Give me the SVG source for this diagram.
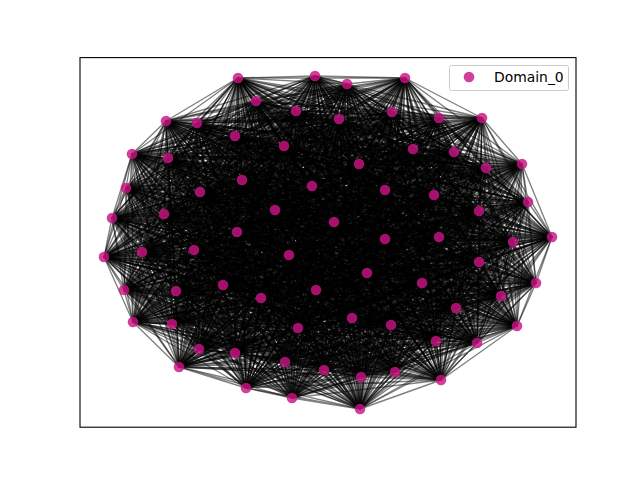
<svg xmlns="http://www.w3.org/2000/svg" width="640" height="480" viewBox="0 0 640 480">
<style>
.e{fill:none;stroke:#000;stroke-opacity:0.5;stroke-width:1.35;stroke-linejoin:round}
.n circle{fill:#c71585;fill-opacity:0.82}
.lg{font-family:"DejaVu Sans","Liberation Sans",sans-serif;font-size:13.9px;fill:#000}
</style>
<rect width="640" height="480" fill="#fff"/>
<g id="edges">
<path class="e" d="M238 78 315 76 360 409 347 84 292 398 405 78 246 388 256 101 441 380 296 111 179 367 392 112 361 377 339 119 395 372 166 121 324 370 197 123 285 362 439 118 235 353 482 118 199 349 235 136 477 343 284 146 436 341 413 149 517 326 132 154 391 325 168 158 298 328 454 152 352 318 359 164 456 308 486 168 172 324 522 164 133 322 242 180 501 296 312 186 261 298 385 190 422 283 126 188 316 290 200 192 176 291 434 195 124 290 528 202 223 285 112 218 536 283 164 214 367 273 275 210 479 262 479 211 289 255 334 222 194 250 237 232 142 252 385 239 104 257 439 237 513 242 552 237"/>
<path class="e" d="M315 76 347 84 238 78 405 78 360 409 256 101 292 398 296 111 246 388 392 112 441 380 339 119 179 367 166 121 361 377 197 123 395 372 439 118 324 370 482 118 285 362 235 136 235 353 284 146 199 349 413 149 477 343 132 154 436 341 168 158 517 326 454 152 391 325 359 164 298 328 486 168 352 318 522 164 456 308 242 180 172 324 312 186 133 322 385 190 501 296 126 188 261 298 200 192 422 283 434 195 316 290 528 202 176 291 112 218 124 290 164 214 223 285 275 210 536 283 479 211 367 273 334 222 479 262 237 232 289 255 385 239 194 250 439 237 142 252 552 237 104 257 513 242"/>
<path class="e" d="M347 84 405 78 315 76 256 101 238 78 296 111 360 409 392 112 292 398 339 119 246 388 166 121 441 380 197 123 179 367 439 118 361 377 482 118 395 372 235 136 324 370 284 146 285 362 413 149 235 353 132 154 199 349 168 158 477 343 454 152 436 341 359 164 517 326 486 168 391 325 522 164 298 328 242 180 352 318 312 186 456 308 385 190 172 324 126 188 133 322 200 192 501 296 434 195 261 298 528 202 422 283 112 218 316 290 164 214 176 291 275 210 124 290 479 211 223 285 334 222 536 283 237 232 367 273 385 239 479 262 439 237 289 255 552 237 194 250 513 242 142 252 104 257"/>
<path class="e" d="M405 78 256 101 347 84 296 111 315 76 392 112 238 78 339 119 360 409 166 121 292 398 197 123 246 388 439 118 441 380 482 118 179 367 235 136 361 377 284 146 395 372 413 149 324 370 132 154 285 362 168 158 235 353 454 152 199 349 359 164 477 343 486 168 436 341 522 164 517 326 242 180 391 325 312 186 298 328 385 190 352 318 126 188 456 308 200 192 172 324 434 195 133 322 528 202 501 296 112 218 261 298 164 214 422 283 275 210 316 290 479 211 176 291 334 222 124 290 237 232 223 285 385 239 536 283 439 237 367 273 552 237 479 262 513 242 289 255 104 257 194 250 142 252"/>
<path class="e" d="M256 101 296 111 405 78 392 112 347 84 339 119 315 76 166 121 238 78 197 123 360 409 439 118 292 398 482 118 246 388 235 136 441 380 284 146 179 367 413 149 361 377 132 154 395 372 168 158 324 370 454 152 285 362 359 164 235 353 486 168 199 349 522 164 477 343 242 180 436 341 312 186 517 326 385 190 391 325 126 188 298 328 200 192 352 318 434 195 456 308 528 202 172 324 112 218 133 322 164 214 501 296 275 210 261 298 479 211 422 283 334 222 316 290 237 232 176 291 385 239 124 290 439 237 223 285 552 237 536 283 513 242 367 273 104 257 479 262 142 252 289 255 194 250"/>
<path class="e" d="M296 111 392 112 256 101 339 119 405 78 166 121 347 84 197 123 315 76 439 118 238 78 482 118 360 409 235 136 292 398 284 146 246 388 413 149 441 380 132 154 179 367 168 158 361 377 454 152 395 372 359 164 324 370 486 168 285 362 522 164 235 353 242 180 199 349 312 186 477 343 385 190 436 341 126 188 517 326 200 192 391 325 434 195 298 328 528 202 352 318 112 218 456 308 164 214 172 324 275 210 133 322 479 211 501 296 334 222 261 298 237 232 422 283 385 239 316 290 439 237 176 291 552 237 124 290 513 242 223 285 104 257 536 283 142 252 367 273 194 250 479 262 289 255"/>
<path class="e" d="M392 112 339 119 296 111 166 121 256 101 197 123 405 78 439 118 347 84 482 118 315 76 235 136 238 78 284 146 360 409 413 149 292 398 132 154 246 388 168 158 441 380 454 152 179 367 359 164 361 377 486 168 395 372 522 164 324 370 242 180 285 362 312 186 235 353 385 190 199 349 126 188 477 343 200 192 436 341 434 195 517 326 528 202 391 325 112 218 298 328 164 214 352 318 275 210 456 308 479 211 172 324 334 222 133 322 237 232 501 296 385 239 261 298 439 237 422 283 552 237 316 290 513 242 176 291 104 257 124 290 142 252 223 285 194 250 536 283 289 255 367 273 479 262"/>
<path class="e" d="M339 119 166 121 392 112 197 123 296 111 439 118 256 101 482 118 405 78 235 136 347 84 284 146 315 76 413 149 238 78 132 154 360 409 168 158 292 398 454 152 246 388 359 164 441 380 486 168 179 367 522 164 361 377 242 180 395 372 312 186 324 370 385 190 285 362 126 188 235 353 200 192 199 349 434 195 477 343 528 202 436 341 112 218 517 326 164 214 391 325 275 210 298 328 479 211 352 318 334 222 456 308 237 232 172 324 385 239 133 322 439 237 501 296 552 237 261 298 513 242 422 283 104 257 316 290 142 252 176 291 194 250 124 290 289 255 223 285 479 262 536 283 367 273"/>
<path class="e" d="M166 121 197 123 339 119 439 118 392 112 482 118 296 111 235 136 256 101 284 146 405 78 413 149 347 84 132 154 315 76 168 158 238 78 454 152 360 409 359 164 292 398 486 168 246 388 522 164 441 380 242 180 179 367 312 186 361 377 385 190 395 372 126 188 324 370 200 192 285 362 434 195 235 353 528 202 199 349 112 218 477 343 164 214 436 341 275 210 517 326 479 211 391 325 334 222 298 328 237 232 352 318 385 239 456 308 439 237 172 324 552 237 133 322 513 242 501 296 104 257 261 298 142 252 422 283 194 250 316 290 289 255 176 291 479 262 124 290 367 273 223 285 536 283"/>
<path class="e" d="M197 123 439 118 166 121 482 118 339 119 235 136 392 112 284 146 296 111 413 149 256 101 132 154 405 78 168 158 347 84 454 152 315 76 359 164 238 78 486 168 360 409 522 164 292 398 242 180 246 388 312 186 441 380 385 190 179 367 126 188 361 377 200 192 395 372 434 195 324 370 528 202 285 362 112 218 235 353 164 214 199 349 275 210 477 343 479 211 436 341 334 222 517 326 237 232 391 325 385 239 298 328 439 237 352 318 552 237 456 308 513 242 172 324 104 257 133 322 142 252 501 296 194 250 261 298 289 255 422 283 479 262 316 290 367 273 176 291 536 283 124 290 223 285"/>
<path class="e" d="M439 118 482 118 197 123 235 136 166 121 284 146 339 119 413 149 392 112 132 154 296 111 168 158 256 101 454 152 405 78 359 164 347 84 486 168 315 76 522 164 238 78 242 180 360 409 312 186 292 398 385 190 246 388 126 188 441 380 200 192 179 367 434 195 361 377 528 202 395 372 112 218 324 370 164 214 285 362 275 210 235 353 479 211 199 349 334 222 477 343 237 232 436 341 385 239 517 326 439 237 391 325 552 237 298 328 513 242 352 318 104 257 456 308 142 252 172 324 194 250 133 322 289 255 501 296 479 262 261 298 367 273 422 283 536 283 316 290 223 285 176 291 124 290"/>
<path class="e" d="M482 118 235 136 439 118 284 146 197 123 413 149 166 121 132 154 339 119 168 158 392 112 454 152 296 111 359 164 256 101 486 168 405 78 522 164 347 84 242 180 315 76 312 186 238 78 385 190 360 409 126 188 292 398 200 192 246 388 434 195 441 380 528 202 179 367 112 218 361 377 164 214 395 372 275 210 324 370 479 211 285 362 334 222 235 353 237 232 199 349 385 239 477 343 439 237 436 341 552 237 517 326 513 242 391 325 104 257 298 328 142 252 352 318 194 250 456 308 289 255 172 324 479 262 133 322 367 273 501 296 536 283 261 298 223 285 422 283 124 290 316 290 176 291"/>
<path class="e" d="M235 136 284 146 482 118 413 149 439 118 132 154 197 123 168 158 166 121 454 152 339 119 359 164 392 112 486 168 296 111 522 164 256 101 242 180 405 78 312 186 347 84 385 190 315 76 126 188 238 78 200 192 360 409 434 195 292 398 528 202 246 388 112 218 441 380 164 214 179 367 275 210 361 377 479 211 395 372 334 222 324 370 237 232 285 362 385 239 235 353 439 237 199 349 552 237 477 343 513 242 436 341 104 257 517 326 142 252 391 325 194 250 298 328 289 255 352 318 479 262 456 308 367 273 172 324 536 283 133 322 223 285 501 296 124 290 261 298 176 291 422 283 316 290"/>
<path class="e" d="M284 146 413 149 235 136 132 154 482 118 168 158 439 118 454 152 197 123 359 164 166 121 486 168 339 119 522 164 392 112 242 180 296 111 312 186 256 101 385 190 405 78 126 188 347 84 200 192 315 76 434 195 238 78 528 202 360 409 112 218 292 398 164 214 246 388 275 210 441 380 479 211 179 367 334 222 361 377 237 232 395 372 385 239 324 370 439 237 285 362 552 237 235 353 513 242 199 349 104 257 477 343 142 252 436 341 194 250 517 326 289 255 391 325 479 262 298 328 367 273 352 318 536 283 456 308 223 285 172 324 124 290 133 322 176 291 501 296 316 290 261 298 422 283"/>
<path class="e" d="M413 149 132 154 284 146 168 158 235 136 454 152 482 118 359 164 439 118 486 168 197 123 522 164 166 121 242 180 339 119 312 186 392 112 385 190 296 111 126 188 256 101 200 192 405 78 434 195 347 84 528 202 315 76 112 218 238 78 164 214 360 409 275 210 292 398 479 211 246 388 334 222 441 380 237 232 179 367 385 239 361 377 439 237 395 372 552 237 324 370 513 242 285 362 104 257 235 353 142 252 199 349 194 250 477 343 289 255 436 341 479 262 517 326 367 273 391 325 536 283 298 328 223 285 352 318 124 290 456 308 176 291 172 324 316 290 133 322 422 283 501 296 261 298"/>
<path class="e" d="M132 154 168 158 413 149 454 152 284 146 359 164 235 136 486 168 482 118 522 164 439 118 242 180 197 123 312 186 166 121 385 190 339 119 126 188 392 112 200 192 296 111 434 195 256 101 528 202 405 78 112 218 347 84 164 214 315 76 275 210 238 78 479 211 360 409 334 222 292 398 237 232 246 388 385 239 441 380 439 237 179 367 552 237 361 377 513 242 395 372 104 257 324 370 142 252 285 362 194 250 235 353 289 255 199 349 479 262 477 343 367 273 436 341 536 283 517 326 223 285 391 325 124 290 298 328 176 291 352 318 316 290 456 308 422 283 172 324 261 298 133 322 501 296"/>
<path class="e" d="M168 158 454 152 132 154 359 164 413 149 486 168 284 146 522 164 235 136 242 180 482 118 312 186 439 118 385 190 197 123 126 188 166 121 200 192 339 119 434 195 392 112 528 202 296 111 112 218 256 101 164 214 405 78 275 210 347 84 479 211 315 76 334 222 238 78 237 232 360 409 385 239 292 398 439 237 246 388 552 237 441 380 513 242 179 367 104 257 361 377 142 252 395 372 194 250 324 370 289 255 285 362 479 262 235 353 367 273 199 349 536 283 477 343 223 285 436 341 124 290 517 326 176 291 391 325 316 290 298 328 422 283 352 318 261 298 456 308 501 296 172 324 133 322"/>
<path class="e" d="M454 152 359 164 168 158 486 168 132 154 522 164 413 149 242 180 284 146 312 186 235 136 385 190 482 118 126 188 439 118 200 192 197 123 434 195 166 121 528 202 339 119 112 218 392 112 164 214 296 111 275 210 256 101 479 211 405 78 334 222 347 84 237 232 315 76 385 239 238 78 439 237 360 409 552 237 292 398 513 242 246 388 104 257 441 380 142 252 179 367 194 250 361 377 289 255 395 372 479 262 324 370 367 273 285 362 536 283 235 353 223 285 199 349 124 290 477 343 176 291 436 341 316 290 517 326 422 283 391 325 261 298 298 328 501 296 352 318 133 322 456 308 172 324"/>
<path class="e" d="M359 164 486 168 454 152 522 164 168 158 242 180 132 154 312 186 413 149 385 190 284 146 126 188 235 136 200 192 482 118 434 195 439 118 528 202 197 123 112 218 166 121 164 214 339 119 275 210 392 112 479 211 296 111 334 222 256 101 237 232 405 78 385 239 347 84 439 237 315 76 552 237 238 78 513 242 360 409 104 257 292 398 142 252 246 388 194 250 441 380 289 255 179 367 479 262 361 377 367 273 395 372 536 283 324 370 223 285 285 362 124 290 235 353 176 291 199 349 316 290 477 343 422 283 436 341 261 298 517 326 501 296 391 325 133 322 298 328 172 324 352 318 456 308"/>
<path class="e" d="M486 168 522 164 359 164 242 180 454 152 312 186 168 158 385 190 132 154 126 188 413 149 200 192 284 146 434 195 235 136 528 202 482 118 112 218 439 118 164 214 197 123 275 210 166 121 479 211 339 119 334 222 392 112 237 232 296 111 385 239 256 101 439 237 405 78 552 237 347 84 513 242 315 76 104 257 238 78 142 252 360 409 194 250 292 398 289 255 246 388 479 262 441 380 367 273 179 367 536 283 361 377 223 285 395 372 124 290 324 370 176 291 285 362 316 290 235 353 422 283 199 349 261 298 477 343 501 296 436 341 133 322 517 326 172 324 391 325 456 308 298 328 352 318"/>
<path class="e" d="M522 164 242 180 486 168 312 186 359 164 385 190 454 152 126 188 168 158 200 192 132 154 434 195 413 149 528 202 284 146 112 218 235 136 164 214 482 118 275 210 439 118 479 211 197 123 334 222 166 121 237 232 339 119 385 239 392 112 439 237 296 111 552 237 256 101 513 242 405 78 104 257 347 84 142 252 315 76 194 250 238 78 289 255 360 409 479 262 292 398 367 273 246 388 536 283 441 380 223 285 179 367 124 290 361 377 176 291 395 372 316 290 324 370 422 283 285 362 261 298 235 353 501 296 199 349 133 322 477 343 172 324 436 341 456 308 517 326 352 318 391 325 298 328"/>
<path class="e" d="M242 180 312 186 522 164 385 190 486 168 126 188 359 164 200 192 454 152 434 195 168 158 528 202 132 154 112 218 413 149 164 214 284 146 275 210 235 136 479 211 482 118 334 222 439 118 237 232 197 123 385 239 166 121 439 237 339 119 552 237 392 112 513 242 296 111 104 257 256 101 142 252 405 78 194 250 347 84 289 255 315 76 479 262 238 78 367 273 360 409 536 283 292 398 223 285 246 388 124 290 441 380 176 291 179 367 316 290 361 377 422 283 395 372 261 298 324 370 501 296 285 362 133 322 235 353 172 324 199 349 456 308 477 343 352 318 436 341 298 328 517 326 391 325"/>
<path class="e" d="M312 186 385 190 242 180 126 188 522 164 200 192 486 168 434 195 359 164 528 202 454 152 112 218 168 158 164 214 132 154 275 210 413 149 479 211 284 146 334 222 235 136 237 232 482 118 385 239 439 118 439 237 197 123 552 237 166 121 513 242 339 119 104 257 392 112 142 252 296 111 194 250 256 101 289 255 405 78 479 262 347 84 367 273 315 76 536 283 238 78 223 285 360 409 124 290 292 398 176 291 246 388 316 290 441 380 422 283 179 367 261 298 361 377 501 296 395 372 133 322 324 370 172 324 285 362 456 308 235 353 352 318 199 349 298 328 477 343 391 325 436 341 517 326"/>
<path class="e" d="M385 190 126 188 312 186 200 192 242 180 434 195 522 164 528 202 486 168 112 218 359 164 164 214 454 152 275 210 168 158 479 211 132 154 334 222 413 149 237 232 284 146 385 239 235 136 439 237 482 118 552 237 439 118 513 242 197 123 104 257 166 121 142 252 339 119 194 250 392 112 289 255 296 111 479 262 256 101 367 273 405 78 536 283 347 84 223 285 315 76 124 290 238 78 176 291 360 409 316 290 292 398 422 283 246 388 261 298 441 380 501 296 179 367 133 322 361 377 172 324 395 372 456 308 324 370 352 318 285 362 298 328 235 353 391 325 199 349 517 326 477 343 436 341"/>
<path class="e" d="M126 188 200 192 385 190 434 195 312 186 528 202 242 180 112 218 522 164 164 214 486 168 275 210 359 164 479 211 454 152 334 222 168 158 237 232 132 154 385 239 413 149 439 237 284 146 552 237 235 136 513 242 482 118 104 257 439 118 142 252 197 123 194 250 166 121 289 255 339 119 479 262 392 112 367 273 296 111 536 283 256 101 223 285 405 78 124 290 347 84 176 291 315 76 316 290 238 78 422 283 360 409 261 298 292 398 501 296 246 388 133 322 441 380 172 324 179 367 456 308 361 377 352 318 395 372 298 328 324 370 391 325 285 362 517 326 235 353 436 341 199 349 477 343"/>
<path class="e" d="M200 192 434 195 126 188 528 202 385 190 112 218 312 186 164 214 242 180 275 210 522 164 479 211 486 168 334 222 359 164 237 232 454 152 385 239 168 158 439 237 132 154 552 237 413 149 513 242 284 146 104 257 235 136 142 252 482 118 194 250 439 118 289 255 197 123 479 262 166 121 367 273 339 119 536 283 392 112 223 285 296 111 124 290 256 101 176 291 405 78 316 290 347 84 422 283 315 76 261 298 238 78 501 296 360 409 133 322 292 398 172 324 246 388 456 308 441 380 352 318 179 367 298 328 361 377 391 325 395 372 517 326 324 370 436 341 285 362 477 343 235 353 199 349"/>
<path class="e" d="M434 195 528 202 200 192 112 218 126 188 164 214 385 190 275 210 312 186 479 211 242 180 334 222 522 164 237 232 486 168 385 239 359 164 439 237 454 152 552 237 168 158 513 242 132 154 104 257 413 149 142 252 284 146 194 250 235 136 289 255 482 118 479 262 439 118 367 273 197 123 536 283 166 121 223 285 339 119 124 290 392 112 176 291 296 111 316 290 256 101 422 283 405 78 261 298 347 84 501 296 315 76 133 322 238 78 172 324 360 409 456 308 292 398 352 318 246 388 298 328 441 380 391 325 179 367 517 326 361 377 436 341 395 372 477 343 324 370 199 349 285 362 235 353"/>
<path class="e" d="M528 202 112 218 434 195 164 214 200 192 275 210 126 188 479 211 385 190 334 222 312 186 237 232 242 180 385 239 522 164 439 237 486 168 552 237 359 164 513 242 454 152 104 257 168 158 142 252 132 154 194 250 413 149 289 255 284 146 479 262 235 136 367 273 482 118 536 283 439 118 223 285 197 123 124 290 166 121 176 291 339 119 316 290 392 112 422 283 296 111 261 298 256 101 501 296 405 78 133 322 347 84 172 324 315 76 456 308 238 78 352 318 360 409 298 328 292 398 391 325 246 388 517 326 441 380 436 341 179 367 477 343 361 377 199 349 395 372 235 353 324 370 285 362"/>
<path class="e" d="M112 218 164 214 528 202 275 210 434 195 479 211 200 192 334 222 126 188 237 232 385 190 385 239 312 186 439 237 242 180 552 237 522 164 513 242 486 168 104 257 359 164 142 252 454 152 194 250 168 158 289 255 132 154 479 262 413 149 367 273 284 146 536 283 235 136 223 285 482 118 124 290 439 118 176 291 197 123 316 290 166 121 422 283 339 119 261 298 392 112 501 296 296 111 133 322 256 101 172 324 405 78 456 308 347 84 352 318 315 76 298 328 238 78 391 325 360 409 517 326 292 398 436 341 246 388 477 343 441 380 199 349 179 367 235 353 361 377 285 362 395 372 324 370"/>
<path class="e" d="M164 214 275 210 112 218 479 211 528 202 334 222 434 195 237 232 200 192 385 239 126 188 439 237 385 190 552 237 312 186 513 242 242 180 104 257 522 164 142 252 486 168 194 250 359 164 289 255 454 152 479 262 168 158 367 273 132 154 536 283 413 149 223 285 284 146 124 290 235 136 176 291 482 118 316 290 439 118 422 283 197 123 261 298 166 121 501 296 339 119 133 322 392 112 172 324 296 111 456 308 256 101 352 318 405 78 298 328 347 84 391 325 315 76 517 326 238 78 436 341 360 409 477 343 292 398 199 349 246 388 235 353 441 380 285 362 179 367 324 370 361 377 395 372"/>
<path class="e" d="M275 210 479 211 164 214 334 222 112 218 237 232 528 202 385 239 434 195 439 237 200 192 552 237 126 188 513 242 385 190 104 257 312 186 142 252 242 180 194 250 522 164 289 255 486 168 479 262 359 164 367 273 454 152 536 283 168 158 223 285 132 154 124 290 413 149 176 291 284 146 316 290 235 136 422 283 482 118 261 298 439 118 501 296 197 123 133 322 166 121 172 324 339 119 456 308 392 112 352 318 296 111 298 328 256 101 391 325 405 78 517 326 347 84 436 341 315 76 477 343 238 78 199 349 360 409 235 353 292 398 285 362 246 388 324 370 441 380 395 372 179 367 361 377"/>
<path class="e" d="M479 211 334 222 275 210 237 232 164 214 385 239 112 218 439 237 528 202 552 237 434 195 513 242 200 192 104 257 126 188 142 252 385 190 194 250 312 186 289 255 242 180 479 262 522 164 367 273 486 168 536 283 359 164 223 285 454 152 124 290 168 158 176 291 132 154 316 290 413 149 422 283 284 146 261 298 235 136 501 296 482 118 133 322 439 118 172 324 197 123 456 308 166 121 352 318 339 119 298 328 392 112 391 325 296 111 517 326 256 101 436 341 405 78 477 343 347 84 199 349 315 76 235 353 238 78 285 362 360 409 324 370 292 398 395 372 246 388 361 377 441 380 179 367"/>
<path class="e" d="M334 222 237 232 479 211 385 239 275 210 439 237 164 214 552 237 112 218 513 242 528 202 104 257 434 195 142 252 200 192 194 250 126 188 289 255 385 190 479 262 312 186 367 273 242 180 536 283 522 164 223 285 486 168 124 290 359 164 176 291 454 152 316 290 168 158 422 283 132 154 261 298 413 149 501 296 284 146 133 322 235 136 172 324 482 118 456 308 439 118 352 318 197 123 298 328 166 121 391 325 339 119 517 326 392 112 436 341 296 111 477 343 256 101 199 349 405 78 235 353 347 84 285 362 315 76 324 370 238 78 395 372 360 409 361 377 292 398 179 367 246 388 441 380"/>
<path class="e" d="M237 232 385 239 334 222 439 237 479 211 552 237 275 210 513 242 164 214 104 257 112 218 142 252 528 202 194 250 434 195 289 255 200 192 479 262 126 188 367 273 385 190 536 283 312 186 223 285 242 180 124 290 522 164 176 291 486 168 316 290 359 164 422 283 454 152 261 298 168 158 501 296 132 154 133 322 413 149 172 324 284 146 456 308 235 136 352 318 482 118 298 328 439 118 391 325 197 123 517 326 166 121 436 341 339 119 477 343 392 112 199 349 296 111 235 353 256 101 285 362 405 78 324 370 347 84 395 372 315 76 361 377 238 78 179 367 360 409 441 380 292 398 246 388"/>
<path class="e" d="M385 239 439 237 237 232 552 237 334 222 513 242 479 211 104 257 275 210 142 252 164 214 194 250 112 218 289 255 528 202 479 262 434 195 367 273 200 192 536 283 126 188 223 285 385 190 124 290 312 186 176 291 242 180 316 290 522 164 422 283 486 168 261 298 359 164 501 296 454 152 133 322 168 158 172 324 132 154 456 308 413 149 352 318 284 146 298 328 235 136 391 325 482 118 517 326 439 118 436 341 197 123 477 343 166 121 199 349 339 119 235 353 392 112 285 362 296 111 324 370 256 101 395 372 405 78 361 377 347 84 179 367 315 76 441 380 238 78 246 388 360 409 292 398"/>
<path class="e" d="M439 237 552 237 385 239 513 242 237 232 104 257 334 222 142 252 479 211 194 250 275 210 289 255 164 214 479 262 112 218 367 273 528 202 536 283 434 195 223 285 200 192 124 290 126 188 176 291 385 190 316 290 312 186 422 283 242 180 261 298 522 164 501 296 486 168 133 322 359 164 172 324 454 152 456 308 168 158 352 318 132 154 298 328 413 149 391 325 284 146 517 326 235 136 436 341 482 118 477 343 439 118 199 349 197 123 235 353 166 121 285 362 339 119 324 370 392 112 395 372 296 111 361 377 256 101 179 367 405 78 441 380 347 84 246 388 315 76 292 398 238 78 360 409"/>
</g>
<g id="nodes" class="n">
<g id="n0"><circle cx="238" cy="78" r="5.3"/></g>
<g id="n1"><circle cx="315" cy="76" r="5.3"/></g>
<g id="n2"><circle cx="347" cy="84" r="5.3"/></g>
<g id="n3"><circle cx="405" cy="78" r="5.3"/></g>
<g id="n4"><circle cx="256" cy="101" r="5.3"/></g>
<g id="n5"><circle cx="296" cy="111" r="5.3"/></g>
<g id="n6"><circle cx="392" cy="112" r="5.3"/></g>
<g id="n7"><circle cx="339" cy="119" r="5.3"/></g>
<g id="n8"><circle cx="166" cy="121" r="5.3"/></g>
<g id="n9"><circle cx="197" cy="123" r="5.3"/></g>
<g id="n10"><circle cx="439" cy="118" r="5.3"/></g>
<g id="n11"><circle cx="482" cy="118" r="5.3"/></g>
<g id="n12"><circle cx="235" cy="136" r="5.3"/></g>
<g id="n13"><circle cx="284" cy="146" r="5.3"/></g>
<g id="n14"><circle cx="413" cy="149" r="5.3"/></g>
<g id="n15"><circle cx="132" cy="154" r="5.3"/></g>
<g id="n16"><circle cx="168" cy="158" r="5.3"/></g>
<g id="n17"><circle cx="454" cy="152" r="5.3"/></g>
<g id="n18"><circle cx="359" cy="164" r="5.3"/></g>
<g id="n19"><circle cx="486" cy="168" r="5.3"/></g>
<g id="n20"><circle cx="522" cy="164" r="5.3"/></g>
<g id="n21"><circle cx="242" cy="180" r="5.3"/></g>
<g id="n22"><circle cx="312" cy="186" r="5.3"/></g>
<g id="n23"><circle cx="385" cy="190" r="5.3"/></g>
<g id="n24"><circle cx="126" cy="188" r="5.3"/></g>
<g id="n25"><circle cx="200" cy="192" r="5.3"/></g>
<g id="n26"><circle cx="434" cy="195" r="5.3"/></g>
<g id="n27"><circle cx="528" cy="202" r="5.3"/></g>
<g id="n28"><circle cx="112" cy="218" r="5.3"/></g>
<g id="n29"><circle cx="164" cy="214" r="5.3"/></g>
<g id="n30"><circle cx="275" cy="210" r="5.3"/></g>
<g id="n31"><circle cx="479" cy="211" r="5.3"/></g>
<g id="n32"><circle cx="334" cy="222" r="5.3"/></g>
<g id="n33"><circle cx="237" cy="232" r="5.3"/></g>
<g id="n34"><circle cx="385" cy="239" r="5.3"/></g>
<g id="n35"><circle cx="439" cy="237" r="5.3"/></g>
<g id="n36"><circle cx="552" cy="237" r="5.3"/></g>
<g id="n37"><circle cx="513" cy="242" r="5.3"/></g>
<g id="n38"><circle cx="104" cy="257" r="5.3"/></g>
<g id="n39"><circle cx="142" cy="252" r="5.3"/></g>
<g id="n40"><circle cx="194" cy="250" r="5.3"/></g>
<g id="n41"><circle cx="289" cy="255" r="5.3"/></g>
<g id="n42"><circle cx="479" cy="262" r="5.3"/></g>
<g id="n43"><circle cx="367" cy="273" r="5.3"/></g>
<g id="n44"><circle cx="536" cy="283" r="5.3"/></g>
<g id="n45"><circle cx="223" cy="285" r="5.3"/></g>
<g id="n46"><circle cx="124" cy="290" r="5.3"/></g>
<g id="n47"><circle cx="176" cy="291" r="5.3"/></g>
<g id="n48"><circle cx="316" cy="290" r="5.3"/></g>
<g id="n49"><circle cx="422" cy="283" r="5.3"/></g>
<g id="n50"><circle cx="261" cy="298" r="5.3"/></g>
<g id="n51"><circle cx="501" cy="296" r="5.3"/></g>
<g id="n52"><circle cx="133" cy="322" r="5.3"/></g>
<g id="n53"><circle cx="172" cy="324" r="5.3"/></g>
<g id="n54"><circle cx="456" cy="308" r="5.3"/></g>
<g id="n55"><circle cx="352" cy="318" r="5.3"/></g>
<g id="n56"><circle cx="298" cy="328" r="5.3"/></g>
<g id="n57"><circle cx="391" cy="325" r="5.3"/></g>
<g id="n58"><circle cx="517" cy="326" r="5.3"/></g>
<g id="n59"><circle cx="436" cy="341" r="5.3"/></g>
<g id="n60"><circle cx="477" cy="343" r="5.3"/></g>
<g id="n61"><circle cx="199" cy="349" r="5.3"/></g>
<g id="n62"><circle cx="235" cy="353" r="5.3"/></g>
<g id="n63"><circle cx="285" cy="362" r="5.3"/></g>
<g id="n64"><circle cx="324" cy="370" r="5.3"/></g>
<g id="n65"><circle cx="395" cy="372" r="5.3"/></g>
<g id="n66"><circle cx="361" cy="377" r="5.3"/></g>
<g id="n67"><circle cx="179" cy="367" r="5.3"/></g>
<g id="n68"><circle cx="441" cy="380" r="5.3"/></g>
<g id="n69"><circle cx="246" cy="388" r="5.3"/></g>
<g id="n70"><circle cx="292" cy="398" r="5.3"/></g>
<g id="n71"><circle cx="360" cy="409" r="5.3"/></g>
</g>
<rect id="frame" x="80" y="57.6" width="496" height="369.6" fill="none" stroke="#000" stroke-width="1.1"/>
<g id="legend">
<rect x="449.5" y="65.5" width="119" height="25" rx="2" fill="#fff" fill-opacity="0.8" stroke="#ccc" stroke-width="1"/>
<g class="n"><circle cx="469" cy="77" r="5.3"/></g>
<text class="lg" x="494" y="81.5">Domain_0</text>
</g>
</svg>
